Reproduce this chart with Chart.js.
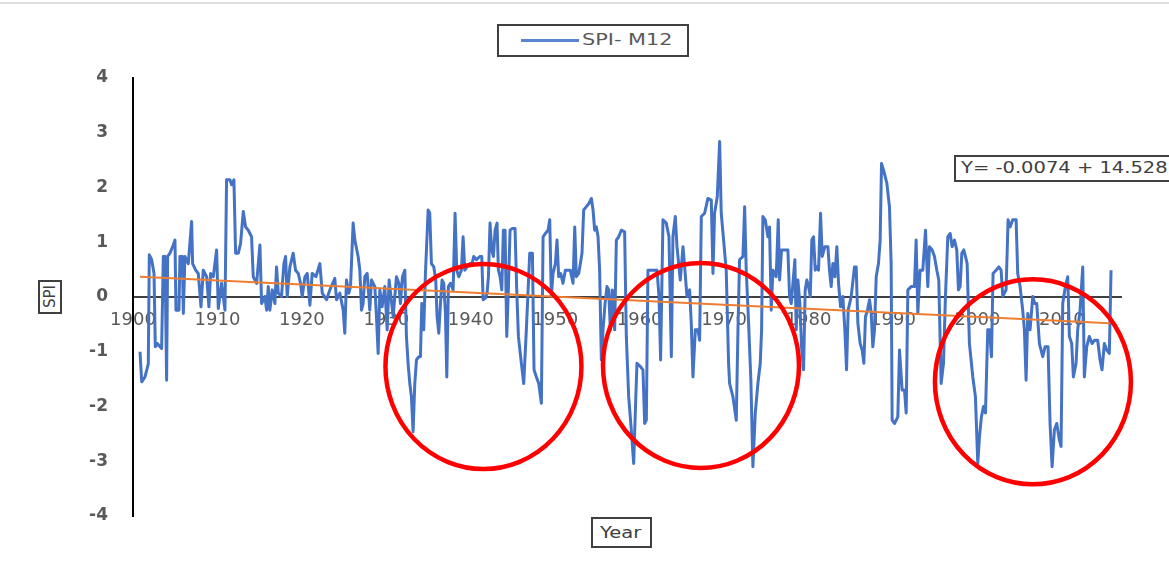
<!DOCTYPE html>
<html><head><meta charset="utf-8">
<script src="https://cdn.jsdelivr.net/npm/chart.js@4"></script>
<style>
html,body{margin:0;padding:0;background:#fff;}
#wrap{position:relative;width:1169px;height:562px;overflow:hidden;background:#fff;}
canvas{position:absolute;left:0;top:0;}
.box{position:absolute;border:2px solid #404040;background:#fff;box-sizing:border-box;white-space:nowrap;font-family:"DejaVu Sans",sans-serif;color:#404040;}
.txt{position:absolute;transform-origin:left center;white-space:nowrap;}
</style></head><body>
<div id="wrap">
<div style="position:absolute;left:0;top:2px;width:1169px;height:2px;background:#dedede;"></div>
<canvas id="c" width="1169" height="562"></canvas>
<div id="legend" class="box" style="left:497px;top:24px;width:192px;height:33px;">
  <div id="legLine" style="position:absolute;left:22px;top:13px;width:58px;height:3px;background:#5b85d0;"></div>
  <div id="legText" class="txt" style="left:83px;top:4px;font-size:16px;line-height:20px;color:#595959;transform:scaleX(1.3);"></div>
</div>
<div id="eq" class="box" style="left:954px;top:155px;width:240px;height:27px;">
  <div class="txt" style="left:5px;top:2px;font-size:15px;line-height:19px;transform:scaleX(1.3);">Y= -0.0074 + 14.528</div>
</div>
<div id="ytitle" class="box" style="left:38px;top:280px;width:24px;height:34px;">
  <div style="position:absolute;left:0;top:0;width:20px;height:30px;writing-mode:vertical-rl;transform:rotate(180deg);font-size:15px;line-height:20px;text-align:center;color:#404040;">SPI</div>
</div>
<div id="xtitle" class="box" style="left:591px;top:517px;width:61px;height:31px;">
  <div class="txt" style="left:7px;top:4px;font-size:16px;line-height:20px;transform:scaleX(1.22);">Year</div>
</div>
</div>
<script>
// SPI-12 series: [decimal year, SPI]
const spi1900_1923 = [[1900.83,-1.00],[1901.03,-1.55],[1901.42,-1.46],[1901.81,-1.22],[1901.93,0.77],[1902.21,0.68],[1902.49,0.43],[1902.64,-0.91],[1902.88,-0.85],[1903.2,-0.91],[1903.39,-0.94],[1903.59,0.74],[1903.79,0.74],[1903.98,-1.52],[1904.1,0.74],[1904.38,0.80],[1904.77,0.95],[1904.97,1.04],[1905.09,-0.24],[1905.44,-0.24],[1905.56,0.74],[1905.84,0.74],[1905.96,-0.30],[1906.15,0.74],[1906.55,0.61],[1906.94,1.38],[1907.06,0.61],[1907.42,0.49],[1907.73,0.43],[1908.05,-0.18],[1908.32,0.49],[1908.72,0.37],[1908.99,-0.18],[1909.19,0.43],[1909.51,0.37],[1909.9,0.86],[1910.1,-0.21],[1910.49,0.25],[1910.89,-0.24],[1911.08,2.14],[1911.48,2.14],[1911.68,2.05],[1911.95,2.14],[1912.15,0.80],[1912.47,0.80],[1912.74,0.98],[1913.06,1.56],[1913.33,1.28],[1913.65,1.22],[1914.04,1.10],[1914.24,0.37],[1914.64,0.25],[1915.03,0.95],[1915.23,-0.12],[1915.62,0.01],[1915.82,-0.24],[1916.02,0.19],[1916.21,-0.24],[1916.49,0.13],[1916.8,-0.12],[1917.0,0.55],[1917.2,0.07],[1917.59,0.01],[1917.87,0.61],[1918.07,0.74],[1918.26,0.01],[1918.58,0.55],[1918.97,0.80],[1919.25,0.49],[1919.57,0.43],[1919.84,0.25],[1920.04,0.01],[1920.36,0.37],[1920.63,0.43],[1920.95,-0.15],[1921.22,0.43],[1921.66,0.37],[1922.13,0.61],[1922.41,0.07],[1922.92,-0.05],[1923.31,0.13]];
const spi1923_1947 = [[1923.9,0.34],[1924.1,-0.05],[1924.49,0.07],[1924.89,-0.24],[1925.08,-0.66],[1925.28,0.31],[1925.56,0.07],[1925.76,0.19],[1926.07,1.35],[1926.27,1.04],[1926.66,0.74],[1926.86,0.49],[1927.06,-0.24],[1927.25,-0.12],[1927.45,0.37],[1927.73,0.43],[1928.04,-0.24],[1928.24,0.31],[1928.64,0.19],[1928.83,-0.36],[1929.03,-1.03],[1929.23,0.13],[1929.5,-0.18],[1929.82,0.19],[1930.1,-0.60],[1930.33,0.31],[1930.81,-0.36],[1931.2,0.37],[1931.48,0.25],[1931.67,-0.12],[1931.91,0.37],[1932.19,0.49],[1932.38,-0.72],[1932.58,-1.22],[1932.78,-1.58],[1932.97,-1.82],[1933.17,-2.46],[1933.37,-1.58],[1933.57,-1.15],[1933.84,-1.09],[1934.04,-1.09],[1934.2,-0.12],[1934.43,-0.60],[1934.63,0.43],[1934.95,1.59],[1935.14,1.53],[1935.34,0.61],[1935.62,0.55],[1935.85,0.31],[1936.01,-0.36],[1936.21,-0.66],[1936.41,-0.12],[1936.6,0.31],[1936.8,0.25],[1937.0,-0.30],[1937.16,-1.46],[1937.35,0.19],[1937.59,0.25],[1937.91,0.13],[1938.14,1.53],[1938.34,0.49],[1938.58,0.37],[1938.89,0.49],[1939.09,1.10],[1939.29,0.49],[1939.56,0.55],[1939.88,0.61],[1940.15,0.61],[1940.35,0.74],[1940.67,0.68],[1941.06,0.74],[1941.3,0.74],[1941.46,-0.05],[1941.73,-0.02],[1941.93,0.07],[1942.09,0.37],[1942.28,1.35],[1942.48,0.86],[1942.68,0.74],[1942.88,1.22],[1943.11,1.35],[1943.27,0.49],[1943.47,0.37],[1943.67,0.13],[1943.86,1.22],[1944.06,1.22],[1944.26,-0.72],[1944.45,0.13],[1944.65,1.22],[1944.89,1.25],[1945.24,1.25],[1945.44,0.13],[1945.64,-0.72],[1946.0,-1.22],[1946.27,-1.58],[1946.58,-0.60],[1946.98,0.80]];
const spi1947_1970 = [[1947.3,0.80],[1947.49,-1.33],[1947.77,-1.46],[1948.05,-1.58],[1948.36,-1.94],[1948.56,1.10],[1948.83,1.16],[1949.15,1.22],[1949.35,1.41],[1949.54,0.01],[1949.74,0.43],[1950.02,0.61],[1950.21,1.04],[1950.41,0.37],[1950.65,0.43],[1950.92,0.25],[1951.2,0.49],[1951.52,0.49],[1951.79,0.49],[1952.11,0.25],[1952.31,1.28],[1952.5,0.37],[1952.78,0.43],[1952.98,0.61],[1953.17,0.80],[1953.37,1.59],[1953.69,1.65],[1954.0,1.71],[1954.28,1.80],[1954.48,1.59],[1954.67,1.22],[1954.87,1.28],[1955.07,1.10],[1955.26,0.49],[1955.46,-1.15],[1955.66,-0.60],[1955.9,-0.12],[1956.13,0.19],[1956.33,0.13],[1956.53,-0.60],[1956.76,0.13],[1957.04,-0.60],[1957.24,1.04],[1957.51,1.10],[1957.83,1.22],[1958.22,1.19],[1958.42,-0.72],[1958.7,-1.82],[1959.01,-2.43],[1959.29,-3.04],[1959.52,-1.94],[1959.68,-1.21],[1960.08,-1.27],[1960.39,-1.33],[1960.59,-2.31],[1960.79,-2.25],[1960.98,0.49],[1961.26,0.49],[1961.65,0.49],[1962.05,0.49],[1962.29,0.01],[1962.48,-1.15],[1962.76,1.41],[1963.15,1.35],[1963.47,1.10],[1963.75,-1.09],[1963.94,1.10],[1964.22,1.47],[1964.42,0.92],[1964.81,0.31],[1965.13,0.92],[1965.36,0.49],[1965.6,0.01],[1965.92,0.13],[1966.11,-0.48],[1966.31,-1.46],[1966.59,-0.60],[1966.9,-0.60],[1967.1,-0.79],[1967.3,1.47],[1967.69,1.53],[1968.08,1.80],[1968.48,1.77],[1968.68,0.43],[1968.87,1.53],[1969.19,1.83],[1969.47,2.84],[1969.66,1.53],[1969.94,1.04],[1970.25,0.49],[1970.53,-1.21]];
const spi1970_1994 = [[1970.65,-1.58],[1971.04,-1.82],[1971.44,-2.25],[1971.64,-0.60],[1971.83,0.68],[1972.23,0.74],[1972.43,1.65],[1972.62,0.49],[1972.9,-0.48],[1973.17,-1.52],[1973.41,-3.10],[1973.69,-2.12],[1974.0,-1.58],[1974.28,-1.21],[1974.44,-0.60],[1974.59,1.47],[1974.87,1.41],[1975.19,1.10],[1975.38,1.28],[1975.58,-0.24],[1975.78,0.49],[1976.17,0.37],[1976.41,1.41],[1976.57,0.31],[1976.8,0.86],[1977.2,0.86],[1977.55,0.86],[1977.75,0.01],[1977.95,-0.12],[1978.15,0.25],[1978.38,0.68],[1978.54,-0.60],[1978.74,0.31],[1978.97,-0.12],[1979.17,-0.91],[1979.41,-1.33],[1979.6,0.13],[1979.8,0.31],[1980.0,0.19],[1980.2,0.01],[1980.39,1.04],[1980.59,1.10],[1980.79,0.49],[1980.99,0.55],[1981.18,0.49],[1981.42,1.53],[1981.62,0.74],[1981.93,0.92],[1982.29,0.92],[1982.48,0.49],[1982.68,0.19],[1982.88,0.61],[1983.12,0.37],[1983.35,0.92],[1983.55,0.25],[1983.79,-0.18],[1984.06,0.01],[1984.3,-0.60],[1984.5,-1.33],[1984.69,-0.24],[1985.05,0.01],[1985.44,0.55],[1985.64,0.55],[1985.84,-0.48],[1986.11,-0.85],[1986.35,-0.97],[1986.55,-1.21],[1986.74,-0.36],[1986.98,-0.24],[1987.22,-0.05],[1987.42,-0.30],[1987.61,-0.91],[1987.81,-0.60],[1988.01,0.37],[1988.28,0.61],[1988.48,1.04],[1988.64,2.44],[1988.87,2.32],[1989.27,2.08],[1989.58,1.65],[1989.78,0.61],[1989.9,-2.25],[1990.18,-2.31],[1990.57,-2.19],[1990.77,-0.97],[1991.08,-1.70],[1991.36,-1.70],[1991.56,-2.12],[1991.76,0.13],[1992.15,0.19],[1992.54,0.19],[1992.74,1.04],[1992.94,-0.30],[1993.21,0.49],[1993.53,0.49],[1993.85,1.22],[1994.12,0.19]];
const spi1994_2016 = [[1994.32,0.92],[1994.64,0.86],[1994.91,0.74],[1995.19,0.49],[1995.42,0.31],[1995.7,-1.58],[1995.98,-1.21],[1996.21,0.01],[1996.49,1.10],[1996.77,1.16],[1997.0,0.92],[1997.28,1.04],[1997.55,0.86],[1997.75,0.13],[1997.95,0.19],[1998.15,0.80],[1998.38,0.86],[1998.58,0.74],[1998.78,0.61],[1999.05,-0.85],[1999.45,-1.46],[1999.76,-1.82],[2000.04,-3.04],[2000.24,-2.55],[2000.47,-2.19],[2000.71,-2.00],[2000.95,-2.12],[2001.22,-0.60],[2001.42,-0.60],[2001.66,-1.09],[2001.85,0.43],[2002.21,0.49],[2002.53,0.55],[2002.8,0.49],[2003.0,0.01],[2003.39,0.13],[2003.63,1.41],[2003.87,1.28],[2004.18,1.41],[2004.58,1.41],[2004.77,0.43],[2005.05,0.19],[2005.36,-0.24],[2005.56,-0.60],[2005.76,-1.52],[2005.96,-0.30],[2006.23,-0.60],[2006.55,0.01],[2006.79,-0.12],[2007.02,-0.12],[2007.34,-0.85],[2007.73,-1.09],[2008.01,-0.91],[2008.36,-0.91],[2008.6,-2.31],[2008.84,-3.10],[2009.11,-2.43],[2009.39,-2.31],[2009.7,-2.61],[2009.9,-2.73],[2010.1,-0.12],[2010.41,0.19],[2010.69,0.37],[2010.89,-0.72],[2011.16,-0.85],[2011.36,-1.46],[2011.68,-1.21],[2011.87,-0.60],[2012.15,-0.24],[2012.47,0.55],[2012.66,-1.46],[2012.94,-0.91],[2013.25,-0.72],[2013.57,-0.85],[2013.85,-0.79],[2014.24,-0.79],[2014.52,-1.15],[2014.75,-1.33],[2015.03,-0.85],[2015.31,-0.97],[2015.62,-1.03],[2015.82,0.49]];
// linear trend end points
const trendYears = [1900.83, 2015.7];
const trendValues = [0.37, -0.48];
// drought circles (centres in data units)
const droughtYears = [1941.5, 1967.26, 2006.57];
const droughtSpi = [-1.27, -1.25, -1.55];
const seriesLabel = 'SPI- M12';

const spiSeries = [].concat(spi1900_1923, spi1923_1947, spi1947_1970, spi1970_1994, spi1994_2016);

document.getElementById('legText').textContent = seriesLabel;

const circlePlugin = {
  id: 'droughtCircles',
  afterDatasetsDraw(chart) {
    const {ctx, scales: {x, y}} = chart;
    ctx.save();
    ctx.strokeStyle = '#FF0000';
    ctx.lineWidth = 4.5;
    droughtYears.forEach((yr, i) => {
      ctx.beginPath();
      ctx.ellipse(x.getPixelForValue(yr), y.getPixelForValue(droughtSpi[i]), 98, 102.5, 0, 0, Math.PI * 2);
      ctx.stroke();
    });
    ctx.restore();
  }
};

new Chart(document.getElementById('c'), {
  type: 'line',
  data: {
    datasets: [
      {
        label: seriesLabel,
        data: spiSeries.map(p => ({x: p[0], y: p[1]})),
        borderColor: '#4472C4',
        borderWidth: 3,
        pointRadius: 0,
        tension: 0,
        borderJoinStyle: 'round',
        fill: false,
        order: 1
      },
      {
        label: 'Linear (' + seriesLabel + ')',
        data: trendYears.map((v, i) => ({x: v, y: trendValues[i]})),
        borderColor: '#ED7D31',
        borderWidth: 2,
        pointRadius: 0,
        fill: false,
        order: 0
      }
    ]
  },
  options: {
    responsive: false,
    animation: false,
    devicePixelRatio: 1,
    layout: {padding: {top: 78, bottom: 46, left: 0, right: 48}},
    plugins: {legend: {display: false}, tooltip: {enabled: false}},
    scales: {
      x: {
        type: 'linear',
        position: {y: 0},
        min: 1900,
        max: 2017,
        grid: {display: false, drawTicks: false},
        border: {color: '#404040', width: 2},
        ticks: {
          stepSize: 10,
          includeBounds: false,
          autoSkip: false,
          maxRotation: 0,
          padding: 13,
          color: '#595959',
          font: {family: 'DejaVu Sans', size: 18},
          callback: v => String(v)
        }
      },
      y: {
        min: -4,
        max: 4,
        grid: {display: false, drawTicks: false},
        border: {color: '#000000', width: 2},
        ticks: {
          stepSize: 1,
          padding: 25,
          color: '#595959',
          font: {family: 'DejaVu Sans', size: 17, weight: 'bold'}
        },
        afterFit: s => { s.width = 133; }
      }
    }
  },
  plugins: [circlePlugin]
});
</script>
</body></html>
